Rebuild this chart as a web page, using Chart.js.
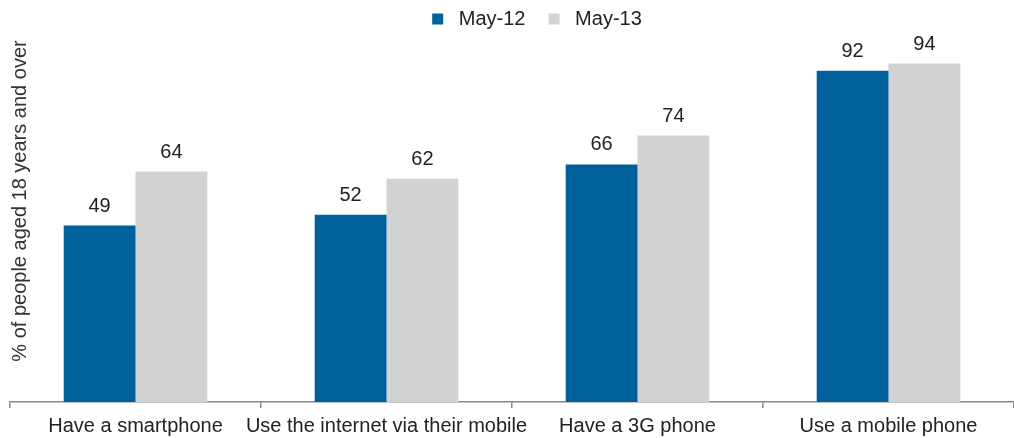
<!DOCTYPE html>
<html>
<head>
<meta charset="utf-8">
<script src="https://cdn.jsdelivr.net/npm/chart.js@4.4.0/dist/chart.umd.min.js"></script>
<style>
  html, body { margin: 0; padding: 0; background: #fff; }
  #wrap { width: 1014px; height: 438px; position: relative; }
</style>
</head>
<body>
<div id="wrap"><canvas id="graph"></canvas></div>
<script>
// données
const categories = ["Have a smartphone", "Use the internet via their mobile", "Have a 3G phone", "Use a mobile phone"];
const may12 = [49, 52, 66, 92];
const may13 = [64, 62, 74, 94];
const seriesNames = ["May-12", "May-13"];
const yTitle = "% of people aged 18 years and over";

const FONT = "'Liberation Sans', Arial, sans-serif";

// valeurs au-dessus des barres
const barValues = {
  id: "barValues",
  afterDatasetsDraw(chart) {
    const ctx = chart.ctx;
    ctx.save();
    ctx.font = "20px " + FONT;
    ctx.fillStyle = "#222";
    ctx.textAlign = "center";
    ctx.textBaseline = "alphabetic";
    chart.data.datasets.forEach((ds, i) => {
      chart.getDatasetMeta(i).data.forEach((bar, j) => {
        ctx.fillText(ds.data[j], bar.x, bar.y - 14);
      });
    });
    ctx.restore();
  }
};

// titre vertical à gauche
const sideTitle = {
  id: "sideTitle",
  afterDraw(chart) {
    const ctx = chart.ctx;
    ctx.save();
    ctx.font = "20px " + FONT;
    ctx.fillStyle = "#333";
    ctx.textAlign = "center";
    ctx.textBaseline = "middle";
    ctx.translate(20, 201);
    ctx.rotate(-Math.PI / 2);
    ctx.fillText(yTitle, 0, 0);
    ctx.restore();
  }
};

// légende un peu décalée (droite / haut)
const legendShift = {
  id: "legendShift",
  afterLayout(chart) {
    const lg = chart.legend;
    lg.left += 25; lg.right += 25;
    lg.top -= 3; lg.bottom -= 3;
  }
};

let ctx = document.querySelector("#graph");
let graph = new Chart(ctx, {
  type: "bar",
  data: {
    labels: categories,
    datasets: [
      { label: seriesNames[0], data: may12, backgroundColor: "#00609c" },
      { label: seriesNames[1], data: may13, backgroundColor: "#d1d2d4" }
    ]
  },
  options: {
    responsive: true,
    maintainAspectRatio: false,
    animation: false,
    layout: { padding: { left: 10, right: 0, top: 0, bottom: -6 } },
    datasets: { bar: { categoryPercentage: 0.572, barPercentage: 1 } },
    plugins: {
      tooltip: { enabled: false },
      legend: {
        position: "top",
        labels: {
          boxWidth: 11,
          boxHeight: 11,
          padding: 12,
          color: "#222",
          font: { family: FONT, size: 20 },
          generateLabels(chart) {
            const items = Chart.defaults.plugins.legend.labels.generateLabels(chart);
            items.forEach((it, i) => {
              it.text = " " + it.text + (i < items.length - 1 ? "  " : "");
            });
            return items;
          }
        }
      }
    },
    scales: {
      y: { display: false, min: 0, max: 100 },
      x: {
        grid: { offset: true, drawOnChartArea: false, tickLength: 6, color: "#888", lineWidth: 1.5 },
        border: { color: "#888", width: 1.5 },
        ticks: { color: "#222", font: { family: FONT, size: 20 }, padding: 6, maxRotation: 0, autoSkip: false }
      }
    }
  },
  plugins: [barValues, sideTitle, legendShift]
});
</script>
</body>
</html>
